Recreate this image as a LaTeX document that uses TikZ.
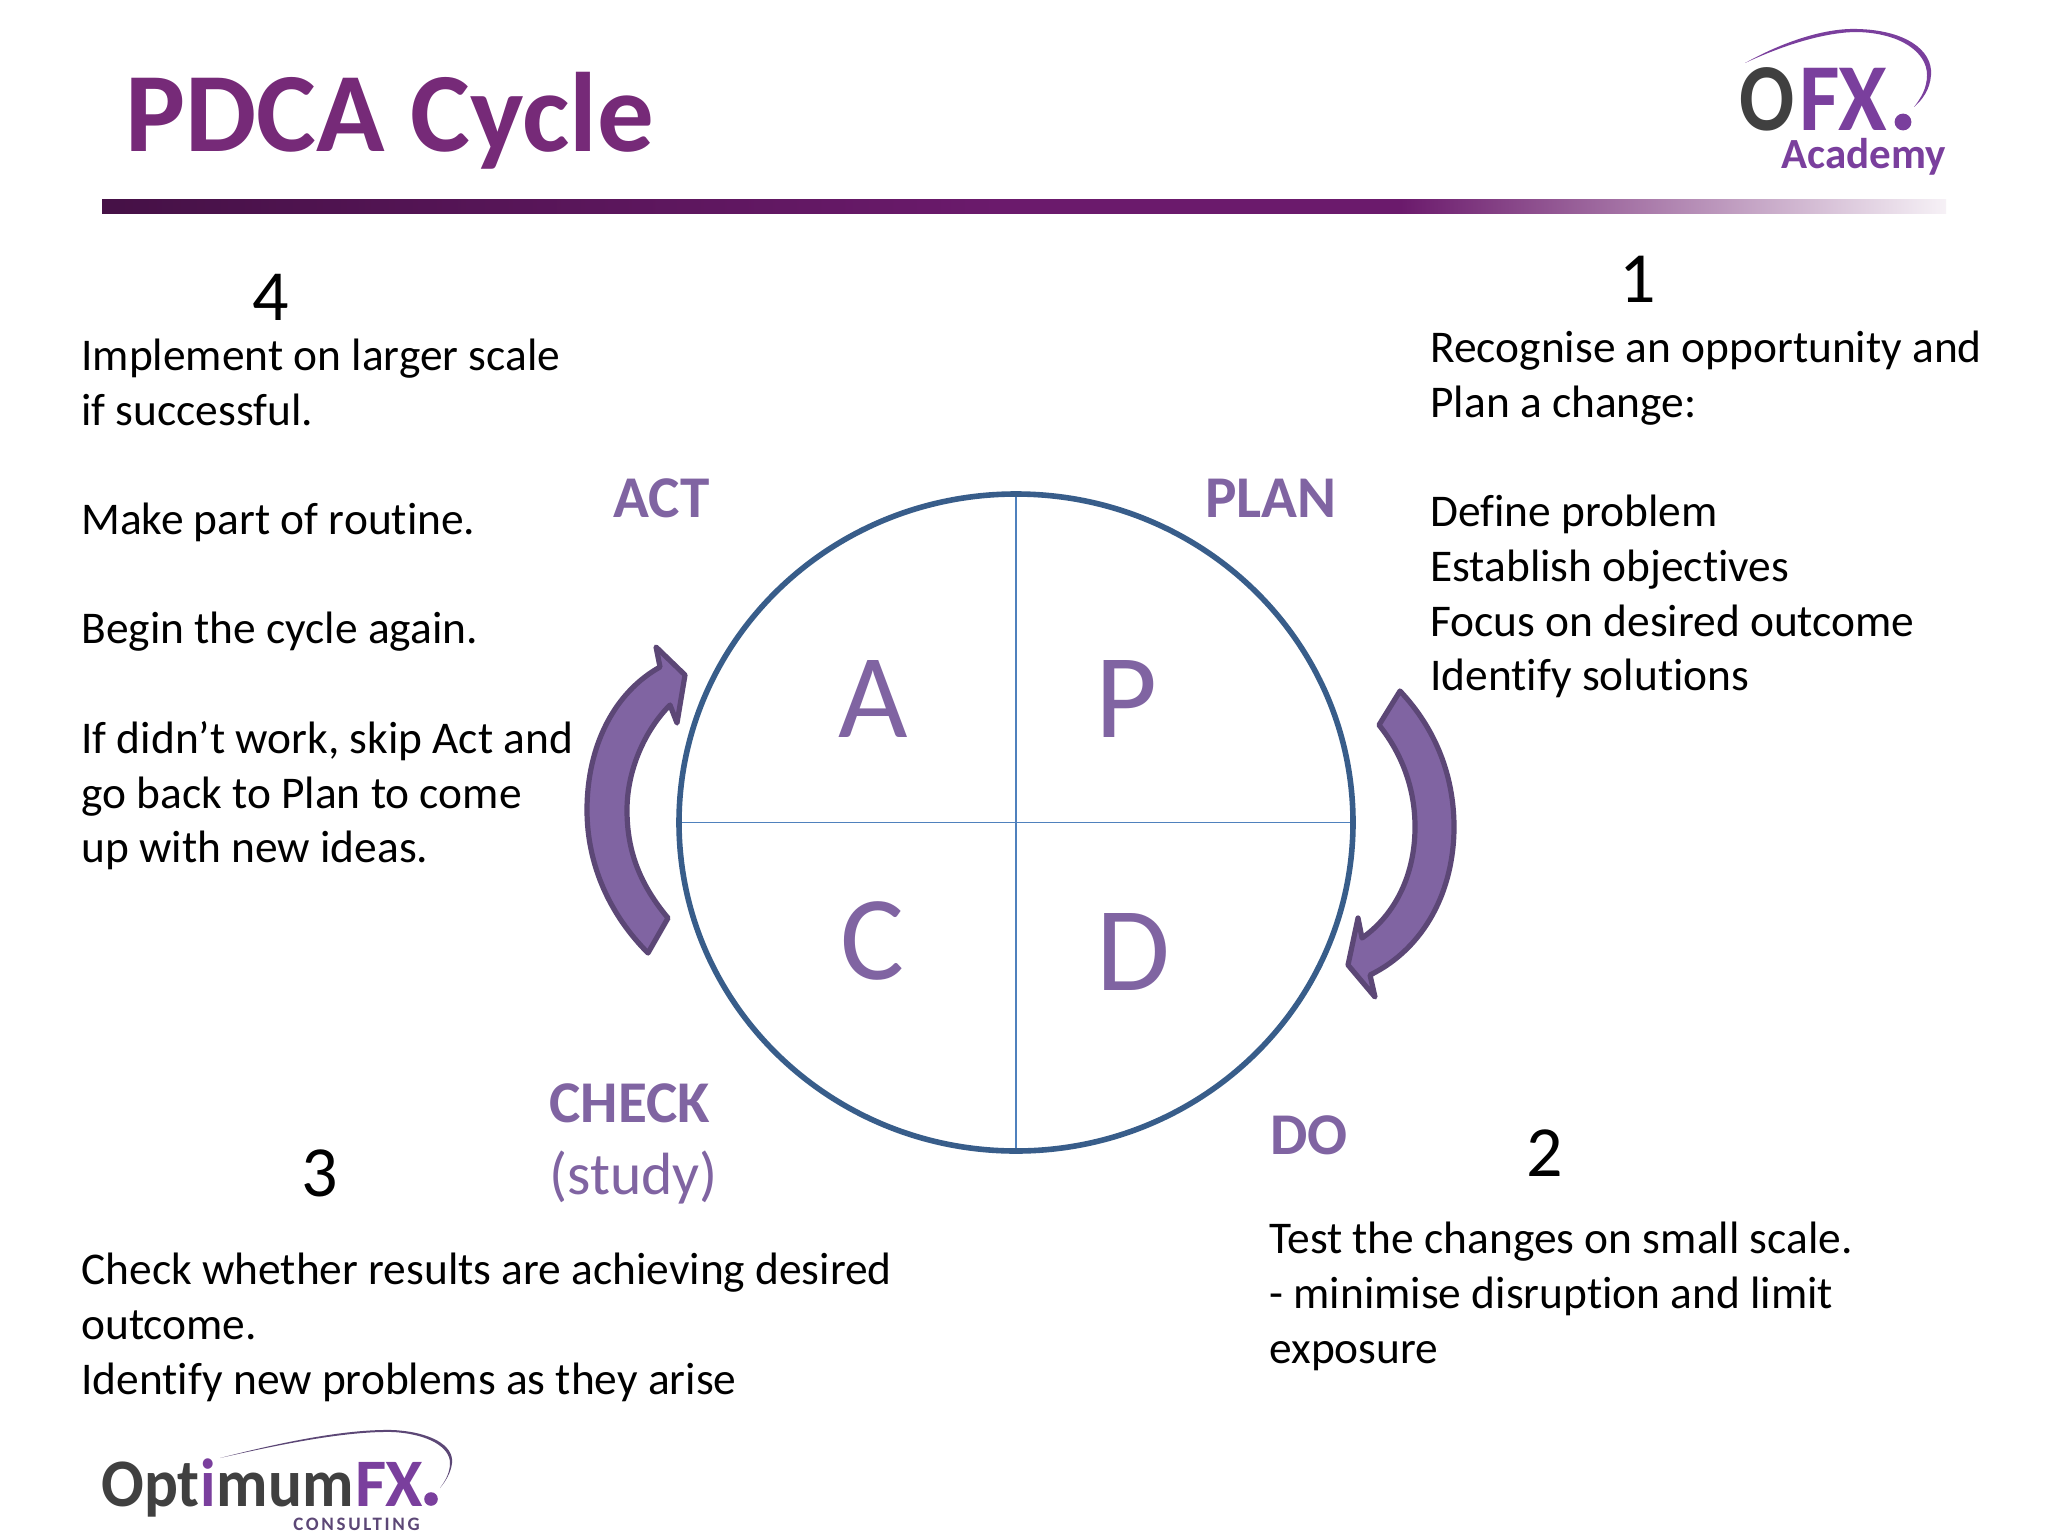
\documentclass[tikz,border=0pt]{standalone}
\usepackage{fontspec}
\setmainfont{Carlito}[Ligatures={NoRequired,NoCommon,NoContextual}]
\usetikzlibrary{positioning}
\definecolor{titlepurple}{HTML}{762A78}
\definecolor{rulepurple}{HTML}{6B1A6C}
\colorlet{ruledark}{rulepurple!65!black}
\colorlet{rulefade}{rulepurple!6}
\definecolor{labelpurple}{HTML}{8064A2}
\definecolor{arrowline}{HTML}{5C4776}
\definecolor{circleblue}{HTML}{385D8A}
\definecolor{crossblue}{HTML}{4F81BD}
\definecolor{logopurple}{HTML}{7A3F9D}
\definecolor{logogrey}{HTML}{404040}
\newfontfamily\spacedfont[LetterSpace=14]{Carlito}
\pgfdeclarehorizontalshading{ruleshade}{100bp}{color(0bp)=(ruledark); color(25bp)=(ruledark); color(49.35bp)=(rulepurple); color(60.2bp)=(rulepurple); color(75bp)=(rulefade); color(100bp)=(rulefade)}
\tikzset{
  bodytext/.style={anchor=north west,inner sep=0pt,align=left,text=black,font=\fontsize{22.7}{27.4}\selectfont},
  stepnum/.style={inner sep=0pt,text=black,font=\fontsize{36}{40}\selectfont},
  phase/.style={anchor=base west,inner sep=0pt,text=labelpurple,font=\fontsize{29.6}{34}\selectfont\bfseries},
  quarter/.style={inner sep=0pt,text=labelpurple,font=\fontsize{60}{64}\selectfont},
  bigarrow/.style={fill=labelpurple,draw=arrowline,line width=2.6pt,line join=round},
}
\begin{document}
\begin{tikzpicture}[x=0.5pt,y=-0.5pt]
  \pgfmathsetmacro{\cx}{1016}
  \pgfmathsetmacro{\cy}{822.5}
  \pgfmathsetmacro{\rx}{337}
  \pgfmathsetmacro{\ry}{328.5}
  \useasboundingbox (0,0) rectangle (2048,1536);
  \fill[white] (0,0) rectangle (2048,1536);
%Kopfzeile
  \node[anchor=base west,inner sep=0pt,text=titlepurple,font=\fontsize{56.5}{60}\selectfont\bfseries] (title) at (125,151) {PDCA Cycle};
  \shade[shading=ruleshade] (102,199) rectangle (1946,213);
%Logo oben
  \node[anchor=base west,inner sep=0pt,xscale=.85,text=logogrey,font=\fontsize{48}{50}\selectfont\bfseries] (ofxO) at (1739,130) {O};
  \node[anchor=base west,inner sep=0pt,xscale=.92,text=logopurple,font=\fontsize{48}{50}\selectfont\bfseries] (ofxFX) at (1799,130) {FX};
  \fill[logopurple] (1903,122) circle [radius=4.2pt];
  \node[anchor=base west,inner sep=0pt,text=logopurple,font=\fontsize{21.5}{24}\selectfont\bfseries] (academy) at (1781,168) {Academy};
  \fill[logopurple] (1745,63) .. controls (1790,38) and (1830,28) .. (1857,29) .. controls (1905,30) and (1933,50) .. (1931,75) .. controls (1930,90) and (1922,100) .. (1914,107) .. controls (1921,98) and (1927,88) .. (1927,75) .. controls (1927,52) and (1900,33) .. (1857,32) .. controls (1830,32) and (1790,42) .. (1745,63) -- cycle;
%Kreis
  \draw[crossblue,line width=0.9pt] (\cx-\rx,\cy) -- (\cx+\rx,\cy);
  \draw[crossblue,line width=0.9pt] (\cx,\cy-\ry) -- (\cx,\cy+\ry);
  \draw[circleblue,line width=2.8pt] (\cx,\cy) ellipse [x radius=\rx*0.5pt,y radius=\ry*0.5pt];
  \node[quarter] (letterA) at (873,699) {A};
  \node[quarter] (letterP) at (1126,699) {P};
  \node[quarter] (letterC) at (872,941) {C};
  \node[quarter] (letterD) at (1133,952) {D};
%Pfeile
  \draw[bigarrow] (668,918) .. controls (636,880) and (627,845) .. (627,810) .. controls (627,770) and (645,730) .. (670,705) -- (677,723) -- (685,675) -- (656,647) -- (660,667) .. controls (615,692) and (587,745) .. (587,810) .. controls (587,865) and (610,915) .. (648,953) -- cycle;
  \draw[bigarrow] (1379,725) .. controls (1403,755) and (1415,790) .. (1415,827) .. controls (1415,875) and (1395,915) .. (1362,938) -- (1358,918) -- (1348,965) -- (1375,997) -- (1370,975) .. controls (1425,948) and (1454,890) .. (1454,827) .. controls (1454,775) and (1435,728) .. (1400,691) -- cycle;
%Beschriftung
  \node[phase] (act) at (613,517) {ACT};
  \node[phase] (plan) at (1205,517) {PLAN};
  \node[phase] (check) at (549,1122) {CHECK};
  \node[phase,font=\fontsize{29.8}{34}\selectfont] (study) at (549,1194) {(study)};
  \node[phase] (do) at (1270,1154) {DO};
  \node[stepnum] (one) at (1638,279) {1};
  \node[stepnum] (two) at (1545,1153) {2};
  \node[stepnum] (three) at (320,1173) {3};
  \node[stepnum] (four) at (271,297) {4};
  \node[bodytext] (plantext) at (1430,331) {Recognise an opportunity and\\Plan a change:\\[27pt]Define problem\\Establish objectives\\Focus on desired outcome\\Identify solutions};
  \node[bodytext] (acttext) at (81,338.5) {Implement on larger scale\\if successful.\\[27pt]Make part of routine.\\[27.4pt]Begin the cycle again.\\[27.4pt]If didn’t work, skip Act and\\go back to Plan to come\\up with new ideas.};
  \node[bodytext] (checktext) at (81,1253) {Check whether results are achieving desired\\outcome.\\Identify new problems as they arise};
  \node[bodytext] (dotext) at (1269,1222) {Test the changes on small scale.\\- minimise disruption and limit\\exposure};
%Logo unten
  \node[anchor=base west,inner sep=0pt,xscale=.93,text=logogrey,font=\fontsize{34}{38}\selectfont\bfseries] (optim) at (101,1506) {Opt};
  \node[anchor=base west,inner sep=0pt,xscale=.93,text=logopurple,font=\fontsize{34}{38}\selectfont\bfseries] (opti) at (optim.base east) {i};
  \node[anchor=base west,inner sep=0pt,xscale=.93,text=logogrey,font=\fontsize{34}{38}\selectfont\bfseries] (optmum) at (opti.base east) {mum};
  \node[anchor=base west,inner sep=0pt,text=logopurple,font=\fontsize{34}{38}\selectfont\bfseries] (optfx) at (355,1506) {FX};
  \fill[logopurple] (431,1499) circle [radius=3.4pt];
  \node[anchor=base west,inner sep=0pt,text=arrowline,font=\fontsize{9.5}{11}\spacedfont\bfseries] (consult) at (293,1530) {CONSULTING};
  \fill[arrowline] (220,1458) .. controls (290,1440) and (350,1429) .. (393,1430) .. controls (430,1432) and (454,1445) .. (452,1463) .. controls (451,1473) and (445,1482) .. (440,1488) .. controls (446,1480) and (450,1472) .. (450,1463) .. controls (450,1447) and (428,1434) .. (393,1432) .. controls (350,1431) and (290,1442) .. (220,1458) -- cycle;
\end{tikzpicture}
\end{document}
